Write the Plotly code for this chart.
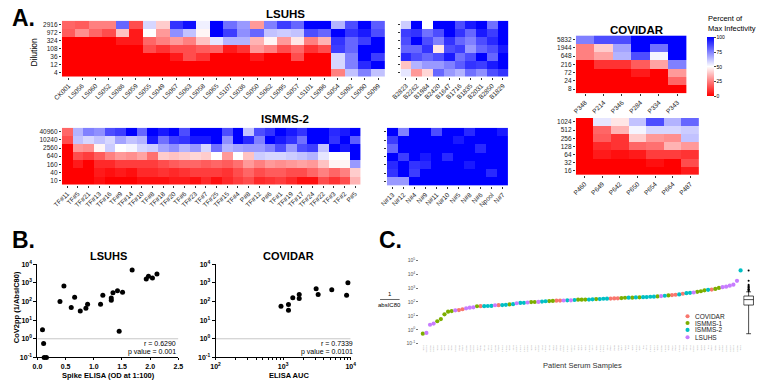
import plotly.graph_objects as go

W, H = 760, 383
FONT = "Arial, Liberation Sans, Helvetica, sans-serif"

# ---------------- Panel A data (percent of max infectivity) ----------------
lsuhs_dil = ["2916", "972", "324", "108", "36", "12", "4"]
lsuhs_samples = ["CK001", "LS056", "LS060", "LS052", "LS086", "LS059", "LS055", "LS049",
                 "LS067", "LS063", "LS058", "LS065", "LS107", "LS036", "LS050", "LS062",
                 "LS095", "LS057", "LS101", "LS096", "LS054", "LS092", "LS090", "LS099"]
lsuhs_z = [
    [20, 18, 25, 25, 80, 15, 58, 40, 90, 97, 53, 100, 78, 70, 30, 75, 88, 80, 100, 100, 65, 85, 100, 82],
    [18, 28, 20, 15, 38, 5, 50, 30, 72, 62, 48, 100, 88, 72, 80, 62, 60, 62, 85, 80, 100, 90, 95, 85],
    [0, 0, 0, 0, 5, 5, 20, 25, 30, 25, 38, 55, 65, 65, 35, 48, 30, 45, 25, 35, 90, 80, 88, 100],
    [0, 0, 0, 0, 0, 0, 15, 10, 15, 15, 18, 20, 5, 10, 30, 25, 15, 20, 10, 15, 88, 80, 100, 100],
    [0, 0, 0, 0, 0, 0, 0, 0, 5, 15, 10, 0, 0, 0, 5, 0, 0, 15, 0, 0, 58, 75, 100, 88],
    [0, 0, 0, 0, 0, 0, 0, 0, 0, 0, 0, 0, 0, 0, 0, 0, 0, 0, 0, 0, 58, 75, 92, 100],
    [0, 0, 0, 0, 0, 0, 0, 0, 0, 0, 0, 0, 0, 0, 0, 0, 0, 0, 0, 0, 25, 62, 75, 62],
]
lsuhs_b_samples = ["B2823", "B2262", "B1984", "B2420", "B1647", "B1716", "B1835", "B2031", "B2850", "B1829"]
lsuhs_b_z = [
    [60, 100, 50, 100, 100, 85, 95, 100, 78, 100],
    [88, 90, 78, 85, 100, 90, 80, 95, 88, 100],
    [85, 100, 85, 75, 90, 80, 75, 85, 92, 100],
    [80, 80, 90, 45, 85, 88, 70, 80, 85, 95],
    [92, 85, 80, 85, 95, 78, 85, 100, 80, 100],
    [38, 65, 70, 70, 75, 82, 90, 88, 95, 100],
    [55, 30, 42, 80, 70, 65, 78, 72, 85, 90],
]

ismms_dil = ["40960", "10240", "2560", "640", "160", "40", "10"]
ismms_samples = ["TF#11", "TF#5", "TF#21", "TF#13", "TF#16", "TF#9", "TF#14", "TF#10", "TF#8",
                 "TF#18", "TF#20", "TF#6", "TF#23", "TF#7", "TF#25", "TF#15", "TF#4", "P#8",
                 "TF#12", "P#6", "TF#1", "TF#19", "TF#17", "TF#24", "TF#22", "TF#3", "TF#2", "P#5"]
ismms_z = [
    [20, 65, 75, 72, 85, 88, 100, 80, 100, 95, 100, 85, 100, 100, 100, 85, 100, 62, 85, 90, 100, 95, 90, 100, 100, 92, 95, 100],
    [15, 62, 58, 62, 58, 68, 62, 65, 95, 78, 88, 90, 95, 95, 100, 72, 100, 92, 75, 100, 95, 90, 78, 100, 100, 90, 100, 82],
    [0, 30, 28, 48, 60, 50, 52, 58, 60, 68, 72, 65, 70, 58, 78, 65, 68, 70, 70, 75, 85, 70, 85, 88, 62, 100, 95, 100],
    [0, 15, 12, 18, 25, 30, 28, 32, 22, 40, 38, 40, 42, 40, 50, 30, 50, 38, 60, 58, 58, 60, 62, 65, 55, 50, 50, 100],
    [0, 5, 0, 8, 8, 12, 12, 12, 12, 15, 18, 20, 20, 18, 20, 18, 22, 30, 25, 30, 28, 30, 32, 30, 38, 48, 48, 70],
    [0, 0, 0, 5, 3, 5, 3, 8, 8, 10, 8, 10, 12, 12, 12, 10, 15, 20, 15, 18, 18, 15, 15, 20, 25, 20, 25, 40],
    [0, 0, 0, 3, 0, 0, 0, 3, 3, 3, 5, 5, 3, 8, 3, 8, 12, 15, 8, 10, 12, 8, 3, 3, 15, 10, 15, 35],
]
ismms_n_samples = ["N#13", "N#12", "N#4", "N#9", "N#11", "N#10", "N#5", "N#8", "N#6", "Npool", "N#7"]
ismms_n_z = [
    [100, 75, 100, 100, 85, 100, 100, 92, 100, 100, 95],
    [88, 100, 100, 100, 100, 100, 95, 100, 100, 100, 100],
    [80, 100, 100, 100, 100, 100, 100, 100, 92, 100, 100],
    [100, 88, 100, 95, 100, 92, 100, 100, 100, 100, 100],
    [92, 100, 90, 92, 100, 100, 100, 95, 100, 100, 100],
    [90, 100, 88, 100, 100, 100, 100, 100, 100, 92, 100],
    [70, 70, 100, 100, 100, 100, 100, 100, 100, 100, 100],
]

covidar_dil1 = ["5832", "1944", "648", "216", "72", "24", "8"]
covidar_samples1 = ["P348", "P214", "P346", "P284", "P334", "P343"]
covidar_z1 = [
    [75, 85, 85, 100, 100, 100],
    [25, 40, 68, 100, 78, 100],
    [25, 32, 65, 85, 52, 100],
    [0, 10, 10, 18, 32, 75],
    [0, 0, 0, 5, 0, 30],
    [0, 0, 0, 0, 0, 20],
    [0, 0, 0, 0, 0, 0],
]
covidar_dil2 = ["1024", "512", "256", "128", "64", "32", "16"]
covidar_samples2 = ["P460", "P649", "P642", "P650", "P654", "P664", "P487"]
covidar_z2 = [
    [0, 55, 45, 62, 85, 65, 80],
    [0, 20, 35, 52, 58, 58, 60],
    [0, 18, 10, 40, 30, 28, 62],
    [0, 8, 10, 20, 22, 35, 30],
    [0, 5, 3, 5, 12, 12, 10],
    [0, 0, 0, 0, 3, 0, 15],
    [0, 0, 0, 0, 0, 0, 5],
]
colorbar_ticks = [0, 25, 50, 75, 100]

# ---------------- Panel B data ----------------
b_lsuhs_od = [0.09, 0.11, 0.12, 0.16, 0.40, 0.47, 0.60, 0.66, 0.76, 0.86, 0.89, 1.12,
              1.16, 1.31, 1.31, 1.34, 1.42, 1.45, 1.51, 1.68, 1.93, 1.97, 2.04, 2.12]
b_lsuhs_ic = [3.0, 0.56, 0.1, 0.1, 100, 670, 48, 170, 31, 43, 72, 72,
              215, 117, 155, 290, 380, 2.5, 310, 4800, 1600, 2250, 1830, 2950]
b_covidar_auc = [930, 1200, 1200, 1390, 1730, 1730, 3080, 3300, 5250, 9100, 8700]
b_covidar_ic = [56, 69, 34, 156, 235, 144, 480, 235, 430, 1000, 215]
b_lsuhs_stats = ["r = 0.6290", "p value = 0.001"]
b_covidar_stats = ["r = 0.7339", "p value = 0.0101"]
log_ticks = [0.1, 1, 10, 100, 1000, 10000]
log_ticktext = ["10<sup>-1</sup>", "10<sup>0</sup>", "10<sup>1</sup>", "10<sup>2</sup>",
                "10<sup>3</sup>", "10<sup>4</sup>"]
od_ticks = [0, 0.5, 1.0, 1.5, 2.0, 2.5]
od_ticktext = ["0.0", "0.5", "1.0", "1.5", "2.0", "2.5"]

# ---------------- Panel C data ----------------
c_groups = ["I1", "LS", "LS", "LS", "I1", "I1", "I1", "I1", "I1", "LS",
            "CV", "CV", "LS", "LS", "LS", "I1", "CV", "I2", "I2", "I2",
            "LS", "CV", "I2", "I2", "I1", "I2", "LS", "I2", "I2", "LS",
            "I1", "I1", "LS", "I2", "I2", "I1", "I1", "CV", "CV", "LS",
            "I2", "LS", "I2", "I1", "I1", "I1", "I2", "I2", "I1", "I2",
            "I2", "I2", "CV", "CV", "CV", "I1", "I1", "I2", "I1", "I2",
            "I1", "I2", "I2", "I2", "I2", "I1", "LS", "I2", "I1", "CV",
            "CV", "I2", "CV", "I2", "I2", "LS", "I1", "I1", "I1", "I2",
            "CV", "I1", "I1", "LS", "LS", "LS", "LS", "LS", "I2"]
c_values = [0.52, 0.59, 2.3, 2.8, 4.1, 5.9, 13, 20, 22, 25,
            26, 30, 35, 39, 41, 49, 50, 50, 51, 52,
            58, 59, 60, 62, 66, 69, 81, 85, 86, 91,
            98, 99, 100, 107, 112, 116, 118, 124, 125, 127,
            131, 132, 138, 146, 147, 148, 149, 155, 160, 162,
            170, 172, 174, 180, 182, 190, 200, 202, 204, 212,
            214, 222, 224, 236, 238, 250, 263, 280, 295, 310,
            330, 345, 390, 425, 455, 480, 535, 590, 690, 740,
            775, 870, 1020, 1150, 1260, 1480, 1740, 3300, 18600]
c_group_names = {"CV": "COVIDAR", "I1": "ISMMS-1", "I2": "ISMMS-2", "LS": "LSUHS"}
c_group_colors = {"CV": "#F8766D", "I1": "#7CAE00", "I2": "#00BFC4", "LS": "#C77CFF"}
c_legend_order = ["CV", "I1", "I2", "LS"]
c_ticks = [0.1, 1, 10, 100, 1000, 10000, 100000]
c_ticktext = ["10<sup>-1</sup>", "10<sup>0</sup>", "10<sup>1</sup>", "10<sup>2</sup>",
              "10<sup>3</sup>", "10<sup>4</sup>", "10<sup>5</sup>"]
ismms1_names = ["M%03d" % k for k in range(1, 28)]

# sample id for each point (tiny tick labels)
pools = {"CV": list(covidar_samples1 + covidar_samples2),
         "LS": list(lsuhs_samples + lsuhs_b_samples),
         "I2": list(ismms_samples + ismms_n_samples),
         "I1": list(ismms1_names)}
c_labels = [pools[g].pop(0) for g in c_groups]
c_index = list(range(len(c_values)))


def xd(a, b):
    return [a / W, b / W]


def yd(top, bottom):
    return [1 - bottom / H, 1 - top / H]


def px(x):
    return x / W


def py(y):
    return 1 - y / H


fig = go.Figure()

# ---------------- heatmaps ----------------
heatmaps = [
    (lsuhs_samples, lsuhs_dil, lsuhs_z, "x", "y"),
    (lsuhs_b_samples, lsuhs_dil, lsuhs_b_z, "x2", "y2"),
    (ismms_samples, ismms_dil, ismms_z, "x3", "y3"),
    (ismms_n_samples, ismms_dil, ismms_n_z, "x4", "y4"),
    (covidar_samples1, covidar_dil1, covidar_z1, "x5", "y5"),
    (covidar_samples2, covidar_dil2, covidar_z2, "x6", "y6"),
]
for xs, ys, zz, xa, ya in heatmaps:
    fig.add_trace(go.Heatmap(x=xs, y=ys, z=zz, coloraxis="coloraxis", xaxis=xa, yaxis=ya,
                             hoverongaps=False))

hm_x = dict(type="category", tickangle=-45, tickfont=dict(size=6.5, color="#222"),
            ticks="outside", ticklen=2, tickwidth=0.6, tickcolor="#333",
            showgrid=False, zeroline=False, showline=False)
hm_y = dict(type="category", autorange="reversed", tickfont=dict(size=6.5, color="#222"),
            ticks="outside", ticklen=2, tickwidth=0.6, tickcolor="#333",
            showgrid=False, zeroline=False, showline=False)

layout_axes = {}
hm_geo = [
    ("", xd(53, 383), yd(17, 74), True, lsuhs_samples, lsuhs_dil),
    ("2", xd(399, 509), yd(17, 74), False, lsuhs_b_samples, lsuhs_dil),
    ("3", xd(53, 358), yd(126, 184), True, ismms_samples, ismms_dil),
    ("4", xd(385, 509), yd(126, 185), False, ismms_n_samples, ismms_dil),
    ("5", xd(578, 691), yd(32, 91), True, covidar_samples1, covidar_dil1),
    ("6", xd(578, 704), yd(116, 174), True, covidar_samples2, covidar_dil2),
]
for k, xdom, ydom, ylab, xcats, ycats in hm_geo:
    layout_axes["xaxis" + k] = dict(hm_x, domain=xdom, anchor="y" + k,
                                    tickmode="array", tickvals=xcats, ticktext=xcats)
    layout_axes["yaxis" + k] = dict(hm_y, domain=ydom, anchor="x" + k, showticklabels=ylab,
                                    tickmode="array", tickvals=ycats, ticktext=ycats)

# ---------------- Panel B scatter ----------------
fig.add_trace(go.Scatter(x=[0, 2.5], y=[1, 1], mode="lines", line=dict(color="#c8c8c8", width=1),
                         xaxis="x7", yaxis="y7", hoverinfo="skip"))
fig.add_trace(go.Scatter(x=b_lsuhs_od, y=b_lsuhs_ic, mode="markers",
                         marker=dict(size=5, color="black"), xaxis="x7", yaxis="y7", cliponaxis=False))
fig.add_trace(go.Scatter(x=[100, 10000], y=[1, 1], mode="lines", line=dict(color="#c8c8c8", width=1),
                         xaxis="x8", yaxis="y8", hoverinfo="skip"))
fig.add_trace(go.Scatter(x=b_covidar_auc, y=b_covidar_ic, mode="markers",
                         marker=dict(size=5, color="black"), xaxis="x8", yaxis="y8", cliponaxis=False))

bfont = dict(size=7, color="black", weight="bold")
b_y = dict(type="log", range=[-1, 4], domain=yd(265, 360), tickvals=log_ticks, ticktext=log_ticktext,
           tickfont=bfont, showline=True, linecolor="black", linewidth=1, ticks="outside",
           ticklen=3, tickcolor="black", showgrid=False, zeroline=False)
layout_axes["xaxis7"] = dict(domain=xd(28, 172), range=[0, 2.5], tickvals=od_ticks, ticktext=od_ticktext,
                             tickfont=bfont, showline=True, linecolor="black", linewidth=1,
                             ticks="outside", ticklen=2, tickcolor="black", showgrid=False,
                             zeroline=False, anchor="y7")
layout_axes["yaxis7"] = dict(b_y, anchor="x7")
minor_vals = [m * 10 ** e for e in (2, 3) for m in range(2, 10)]
layout_axes["xaxis8"] = dict(type="log", domain=xd(210, 348), range=[2, 4],
                             tickvals=[100, 1000, 10000],
                             ticktext=["10<sup>2</sup>", "10<sup>3</sup>", "10<sup>4</sup>"],
                             tickfont=bfont, showline=True, linecolor="black", linewidth=1,
                             ticks="outside", ticklen=2, tickcolor="black", showgrid=False,
                             zeroline=False, anchor="y8",
                             minor=dict(tickmode="array", tickvals=minor_vals, ticks="outside",
                                        ticklen=1.5, tickcolor="black", showgrid=False))
layout_axes["yaxis8"] = dict(b_y, anchor="x8")

# ---------------- Panel C ----------------
for g in c_legend_order:
    xs = [i for i, gg in zip(c_index, c_groups) if gg == g]
    ys = [v for v, gg in zip(c_values, c_groups) if gg == g]
    fig.add_trace(go.Scatter(x=xs, y=ys, mode="markers", name=c_group_names[g],
                             marker=dict(size=4.2, color=c_group_colors[g]),
                             xaxis="x9", yaxis="y9", cliponaxis=False))
fig.add_trace(go.Box(y=c_values, xaxis="x10", yaxis="y9", boxpoints="outliers",
                     marker=dict(size=2, color="black"), line=dict(color="black", width=0.7),
                     fillcolor="white", width=0.5))

layout_axes["xaxis9"] = dict(domain=xd(418, 750), range=[-1, len(c_values)], tickmode="array",
                             tickvals=c_index, ticktext=c_labels, tickangle=-90,
                             tickfont=dict(size=2.3, color="#999"), ticks="", showgrid=False,
                             zeroline=False, showline=False, anchor="y9")
layout_axes["yaxis9"] = dict(type="log", range=[-1, 5], domain=yd(261, 346), tickvals=c_ticks,
                             ticktext=c_ticktext, tickfont=dict(size=5, color="#555"),
                             ticks="outside", ticklen=2, tickcolor="#777", tickwidth=0.5,
                             showgrid=False, zeroline=False, showline=False, anchor="x9")
layout_axes["xaxis10"] = dict(domain=xd(749, 760), visible=False, anchor="y9")

# ---------------- annotations ----------------
ann = []


def text(x, y, s, size, bold=False, xanchor="center", color="black", angle=0, yanchor="middle"):
    ann.append(dict(x=px(x), y=py(y), xref="paper", yref="paper", text=s, showarrow=False,
                    xanchor=xanchor, yanchor=yanchor, textangle=angle,
                    font=dict(size=size, color=color, family=FONT, weight="bold" if bold else "normal")))


text(0, 14, "A.", 23, bold=True, xanchor="left")
text(0, 240, "B.", 23, bold=True, xanchor="left")
text(375, 240, "C.", 23, bold=True, xanchor="left")
text(281, 10.5, "LSUHS", 11.5, bold=True)
text(281, 117.5, "ISMMS-2", 11.5, bold=True)
text(640, 26, "COVIDAR", 11.5, bold=True)
text(25, 49, "Dilution", 8.5, angle=-90)
text(711, 15, "Percent of", 7.5, xanchor="left")
text(711, 24.5, "Max Infectivity", 7.5, xanchor="left")
text(101, 257, "LSUHS", 11, bold=True)
text(284, 257, "COVIDAR", 11, bold=True)
text(6, 309, "CoV2pp (1/AbsIC80)", 7.5, bold=True, angle=-90)
text(101, 378.5, "Spike ELISA (OD at 1:100)", 7.5, bold=True)
text(285, 378.5, "ELISA AUC", 7.5, bold=True)
text(172, 346, b_lsuhs_stats[0], 7, xanchor="right")
text(172, 354, b_lsuhs_stats[1], 7, xanchor="right")
text(352, 346, b_covidar_stats[0], 7, xanchor="right")
text(352, 354, b_covidar_stats[1], 7, xanchor="right")
text(388, 295, "1", 6)
text(388, 307, "absIC80", 6)
text(585, 368, "Patient Serum Samples", 7.5, color="#333")

shapes = [dict(type="line", xref="paper", yref="paper", x0=px(378), x1=px(398), y0=py(301), y1=py(301),
               line=dict(color="black", width=0.6))]
leg_y = [318, 325, 332, 339.5]
for g, yy in zip(c_legend_order, leg_y):
    shapes.append(dict(type="circle", xref="paper", yref="paper", x0=px(690), x1=px(694.2),
                       y0=py(yy + 2.1), y1=py(yy - 2.1), fillcolor=c_group_colors[g],
                       line=dict(width=0)))
    text(698, yy, c_group_names[g], 6.5, xanchor="left", color="#222")

fig.update_layout(
    width=W, height=H, autosize=False, margin=dict(l=0, r=0, t=0, b=0),
    paper_bgcolor="white", plot_bgcolor="white", showlegend=False,
    font=dict(family=FONT, color="black"),
    coloraxis=dict(cmin=0, cmax=100,
                   colorscale=[[0, "#ff0000"], [0.5, "#ffffff"], [1, "#0000ff"]],
                   colorbar=dict(x=px(712), xanchor="left", y=py(64), yanchor="middle",
                                 len=60 / H, lenmode="fraction", thickness=7, thicknessmode="pixels",
                                 tickvals=colorbar_ticks, ticks="outside", ticklen=2,
                                 tickfont=dict(size=5), outlinewidth=0, xpad=0, ypad=0)),
    annotations=ann, shapes=shapes,
    **layout_axes,
)

fig.write_html("out.html", config={"displayModeBar": False},
               post_script="document.body.style.margin='0';")
